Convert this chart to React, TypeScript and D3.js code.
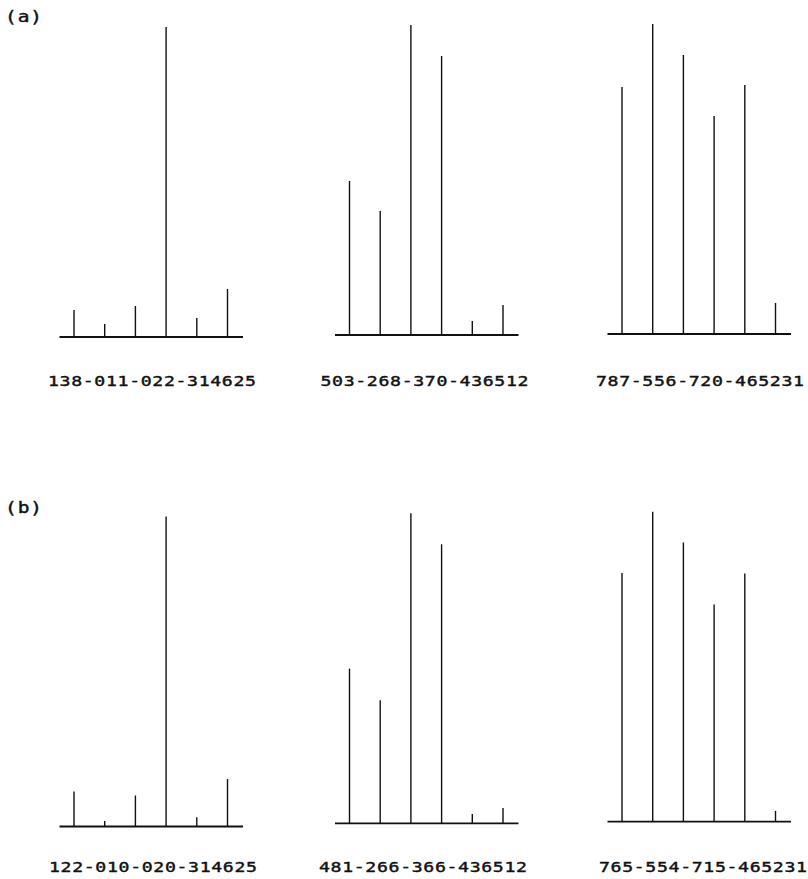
import React from "react";
import * as d3 from "d3";

// Peak positions (6 per spectrum) and relative intensities (% of max)
const positions = [0, 1, 2, 3, 4, 5];

const labelsA = ["138-011-022-314625", "503-268-370-436512", "787-556-720-465231"];
const labelsB = ["122-010-020-314625", "481-266-366-436512", "765-554-715-465231"];

const valuesA1 = [8.7, 4.2, 10.0, 100, 6.1, 15.5];
const valuesA2 = [49.7, 40.0, 100, 90.0, 4.5, 9.7];
const valuesA3 = [79.7, 100, 90.0, 70.3, 80.3, 10.0];

const valuesB1 = [11.3, 1.8, 10.0, 100, 3.0, 15.3];
const valuesB2 = [49.9, 39.7, 100, 90.0, 3.0, 4.9];
const valuesB3 = [80.2, 100, 90.1, 70.1, 80.1, 3.5];

const rowTitles = ["(a)", "(b)"];

// layout
const colFirstX = [74, 349.5, 622];
const colSpan = 153.5;
const baseY = [
  [337, 335, 334],
  [826.5, 823.3, 821.7],
];
const labelY = [386, 872];
const labelCX = [
  [152, 424.5, 700],
  [153, 423, 703],
];
const titleY = [22, 513];
const maxH = 310;
const SX = 1.3;

const FONT = "'DejaVu Sans Mono', 'Liberation Mono', monospace";

function Panel({ values, x0, y0 }: { values: number[]; x0: number; y0: number }) {
  const x = d3.scalePoint<number>().domain(positions).range([x0, x0 + colSpan]);
  const y = d3.scaleLinear().domain([0, 100]).range([y0, y0 - maxH]);
  return (
    <g>
      <line
        x1={x0 - 14.5}
        x2={x0 + colSpan + 15.5}
        y1={y0}
        y2={y0}
        stroke="#111"
        strokeWidth={1.8}
      />
      {values.map((v, i) => (
        <line
          key={i}
          x1={x(positions[i])}
          x2={x(positions[i])}
          y1={y(0)}
          y2={y(v)}
          stroke="#111"
          strokeWidth={1.4}
        />
      ))}
    </g>
  );
}

export default function App() {
  const rows = [
    { vals: [valuesA1, valuesA2, valuesA3], labels: labelsA },
    { vals: [valuesB1, valuesB2, valuesB3], labels: labelsB },
  ];
  return (
    <svg
      width={808}
      height={879}
      style={{ position: "absolute", left: 0, top: 0, background: "#fff" }}
    >
      <rect x={0} y={0} width={808} height={879} fill="#fff" />
      {rows.map((row, r) => (
        <g key={r}>
          <text
            transform={`translate(5,${titleY[r]}) scale(${SX},1)`}
            fontFamily={FONT}
            fontSize={15}
            fill="#111"
            stroke="#111"
            strokeWidth={0.4}
            textLength={37 / SX}
            lengthAdjust="spacing"
          >
            {rowTitles[r]}
          </text>
          {row.vals.map((vals, c) => (
            <g key={c}>
              <Panel values={vals} x0={colFirstX[c]} y0={baseY[r][c]} />
              <text
                transform={`translate(${labelCX[r][c] - 104},${labelY[r]}) scale(${SX},1)`}
                fontFamily={FONT}
                fontSize={14}
                fill="#111"
                stroke="#111"
                strokeWidth={0.4}
                textLength={208 / SX}
                lengthAdjust="spacing"
              >
                {row.labels[c]}
              </text>
            </g>
          ))}
        </g>
      ))}
    </svg>
  );
}
